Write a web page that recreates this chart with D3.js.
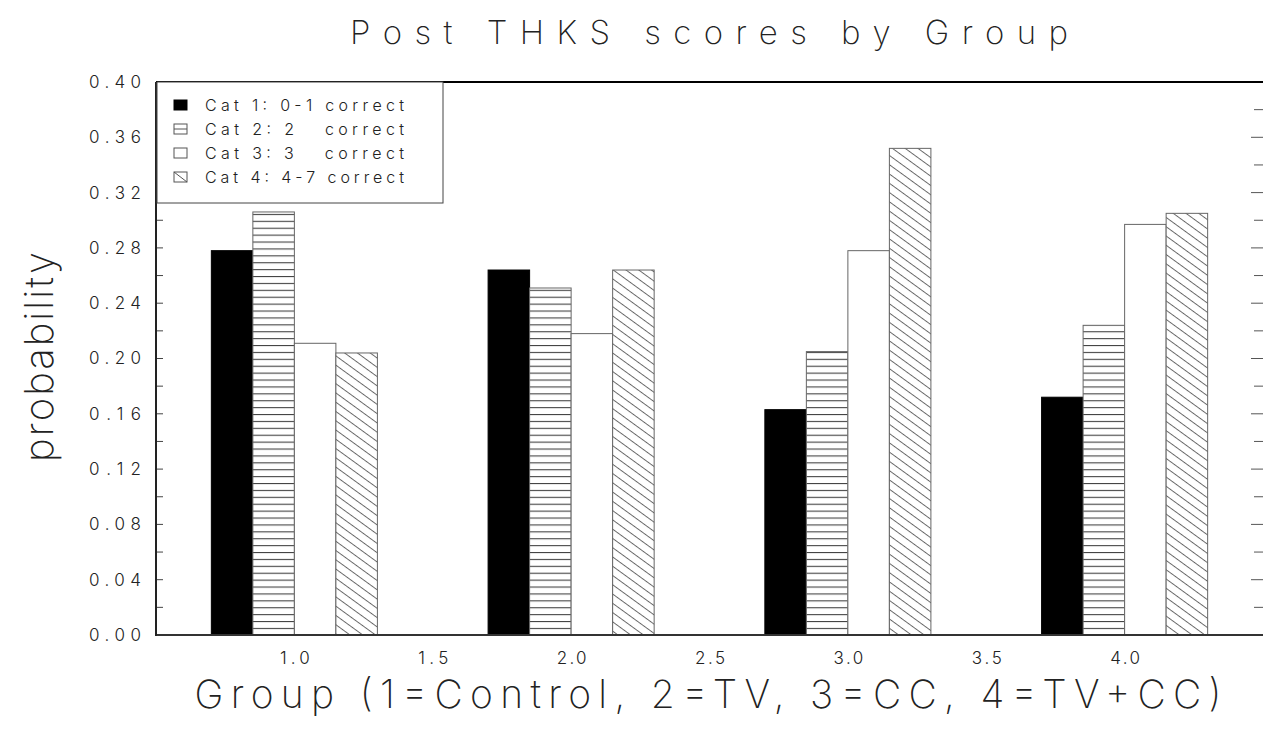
<!DOCTYPE html>
<html>
<head>
<meta charset="utf-8">
<script src="https://cdn.jsdelivr.net/npm/d3@7"></script>
<style>
  html, body { margin: 0; padding: 0; background: #fff; }
  svg { display: block; }
  text { font-family: "Inter", "Roboto", "DejaVu Sans", sans-serif; fill: #222; }
  .big { font-weight: 200; }
  .small { font-weight: 300; }
</style>
</head>
<body>
<svg id="chart" width="1263" height="730"></svg>
<script>
// ---- data ----
const groups = [1, 2, 3, 4];
const categories = ["Cat 1: 0-1 correct", "Cat 2: 2   correct", "Cat 3: 3   correct", "Cat 4: 4-7 correct"];
const cat1 = [0.278, 0.264, 0.163, 0.172];
const cat2 = [0.306, 0.251, 0.205, 0.224];
const cat3 = [0.211, 0.218, 0.278, 0.297];
const cat4 = [0.204, 0.264, 0.352, 0.305];
const yTicks = [0.00, 0.04, 0.08, 0.12, 0.16, 0.20, 0.24, 0.28, 0.32, 0.36, 0.40];
const yMinorTicks = [0.02, 0.04, 0.06, 0.08, 0.10, 0.12, 0.14, 0.16, 0.18, 0.20, 0.22, 0.24, 0.26, 0.28, 0.30, 0.32, 0.34, 0.36, 0.38];
const xTicks = [1.0, 1.5, 2.0, 2.5, 3.0, 3.5, 4.0];
const chartTitle = "Post THKS scores by Group";
const xTitle = "Group (1=Control, 2=TV, 3=CC, 4=TV+CC)";
const yTitle = "probability";

const series = [cat1, cat2, cat3, cat4];
const fills = ["#000", "url(#hlines)", "#fff", "url(#dlines)"];

// ---- layout ----
const svg = d3.select("#chart");
const pLeft = 156, pRight = 1263, pTop = 82, pBottom = 635;
const x = d3.scaleLinear().domain([0.5, 4.5]).range([pLeft, pRight]);
const y = d3.scaleLinear().domain([0, 0.40]).range([pBottom, pTop]);
const barW = 0.15;

// patterns
const defs = svg.append("defs");
const ph = defs.append("pattern").attr("id", "hlines")
  .attr("patternUnits", "userSpaceOnUse").attr("width", 10).attr("height", 6.9);
ph.append("rect").attr("width", 10).attr("height", 6.9).attr("fill", "#fff");
ph.append("line").attr("x1", 0).attr("x2", 10).attr("y1", 0.5).attr("y2", 0.5)
  .attr("stroke", "#444").attr("stroke-width", 1.2);

const pd = defs.append("pattern").attr("id", "dlines")
  .attr("patternUnits", "userSpaceOnUse").attr("width", 10).attr("height", 7.5)
  .attr("patternTransform", "rotate(36)");
pd.append("rect").attr("width", 10).attr("height", 7.5).attr("fill", "#fff");
pd.append("line").attr("x1", 0).attr("x2", 10).attr("y1", 0.5).attr("y2", 0.5)
  .attr("stroke", "#555").attr("stroke-width", 0.9);

// bars
const barData = [];
series.forEach((s, ci) => s.forEach((v, gi) => barData.push({ g: groups[gi], ci, v })));
svg.append("g").selectAll("rect").data(barData).enter().append("rect")
  .attr("x", d => x(d.g - 2 * barW + d.ci * barW))
  .attr("width", d => x(d.g - 2 * barW + (d.ci + 1) * barW) - x(d.g - 2 * barW + d.ci * barW))
  .attr("y", d => y(d.v))
  .attr("height", d => y(0) - y(d.v))
  .attr("fill", d => fills[d.ci])
  .attr("stroke", d => d.ci === 0 ? "#000" : "#666")
  .attr("stroke-width", 1);

// minor ticks left (inside) and right edge
svg.append("g").selectAll("line").data(yMinorTicks).enter().append("line")
  .attr("x1", pLeft).attr("x2", pLeft + 7)
  .attr("y1", d => y(d)).attr("y2", d => y(d))
  .attr("stroke", "#444").attr("stroke-width", 1);
svg.append("g").selectAll("line").data(yMinorTicks).enter().append("line")
  .attr("x1", (d, i) => i % 2 ? pRight - 12 : pRight - 9).attr("x2", pRight)
  .attr("y1", d => y(d)).attr("y2", d => y(d))
  .attr("stroke", "#555").attr("stroke-width", 1);

// frame lines
svg.append("line").attr("x1", pLeft).attr("x2", pRight).attr("y1", pTop).attr("y2", pTop)
  .attr("stroke", "#000").attr("stroke-width", 2);
svg.append("line").attr("x1", pLeft).attr("x2", pRight).attr("y1", pBottom).attr("y2", pBottom)
  .attr("stroke", "#333").attr("stroke-width", 2);
svg.append("line").attr("x1", pLeft).attr("x2", pLeft).attr("y1", pTop).attr("y2", pBottom + 1)
  .attr("stroke", "#222").attr("stroke-width", 2);

// axes (labels only)
const yAxis = svg.append("g").attr("transform", `translate(${pLeft},0)`)
  .call(d3.axisLeft(y).tickValues(yTicks).tickFormat(d3.format(".2f")).tickSize(0).tickPadding(15));
yAxis.select(".domain").remove();
yAxis.selectAll("text").attr("class", "small").style("font-family", "Inter, sans-serif").style("font-size", "17px")
  .attr("textLength", 52).attr("lengthAdjust", "spacing").attr("fill", "#222");

const xAxis = svg.append("g").attr("transform", `translate(0,${pBottom})`)
  .call(d3.axisBottom(x).tickValues(xTicks).tickFormat(d3.format(".1f")).tickSize(0).tickPadding(17));
xAxis.select(".domain").remove();
xAxis.selectAll("text").attr("class", "small").style("font-family", "Inter, sans-serif").style("font-size", "17px")
  .attr("textLength", 30).attr("lengthAdjust", "spacing").attr("fill", "#222");

// legend
const lg = svg.append("g");
lg.append("rect").attr("x", pLeft + 1).attr("y", pTop).attr("width", 286).attr("height", 121)
  .attr("fill", "#fff").attr("stroke", "#444").attr("stroke-width", 1);
const rowY = [105, 129, 153, 177];
categories.forEach((c, i) => {
  lg.append("rect").attr("x", 174).attr("y", rowY[i] - 5).attr("width", 13).attr("height", 10)
    .attr("fill", i === 0 ? "#000" : "#fff").attr("stroke", i === 0 ? "#000" : "#555").attr("stroke-width", 1);
  if (i === 1) lg.append("line").attr("x1", 174).attr("x2", 187).attr("y1", rowY[i]).attr("y2", rowY[i])
    .attr("stroke", "#555");
  if (i === 3) lg.append("line").attr("x1", 174).attr("x2", 187).attr("y1", rowY[i] - 5).attr("y2", rowY[i] + 5)
    .attr("stroke", "#555");
  lg.append("text").attr("class", "small").attr("x", 205).attr("y", rowY[i]).attr("dy", "0.36em")
    .style("font-size", "16px").style("white-space", "pre").attr("xml:space", "preserve")
    .attr("textLength", 199).attr("lengthAdjust", "spacing").text(c);
});

// titles
svg.append("text").attr("class", "big").attr("x", 709).attr("y", 44).attr("text-anchor", "middle")
  .style("font-size", "33px").attr("textLength", 718).attr("lengthAdjust", "spacing")
  .attr("fill", "#222").text(chartTitle);
svg.append("text").attr("class", "big").attr("x", 708).attr("y", 708).attr("text-anchor", "middle")
  .style("font-size", "39px").attr("textLength", 1027).attr("lengthAdjust", "spacing")
  .attr("fill", "#222").text(xTitle);
svg.append("text").attr("class", "big").attr("transform", "translate(53,357) rotate(-90)").attr("text-anchor", "middle")
  .style("font-size", "40px").attr("textLength", 210).attr("lengthAdjust", "spacing")
  .attr("fill", "#222").text(yTitle);
</script>
</body>
</html>
